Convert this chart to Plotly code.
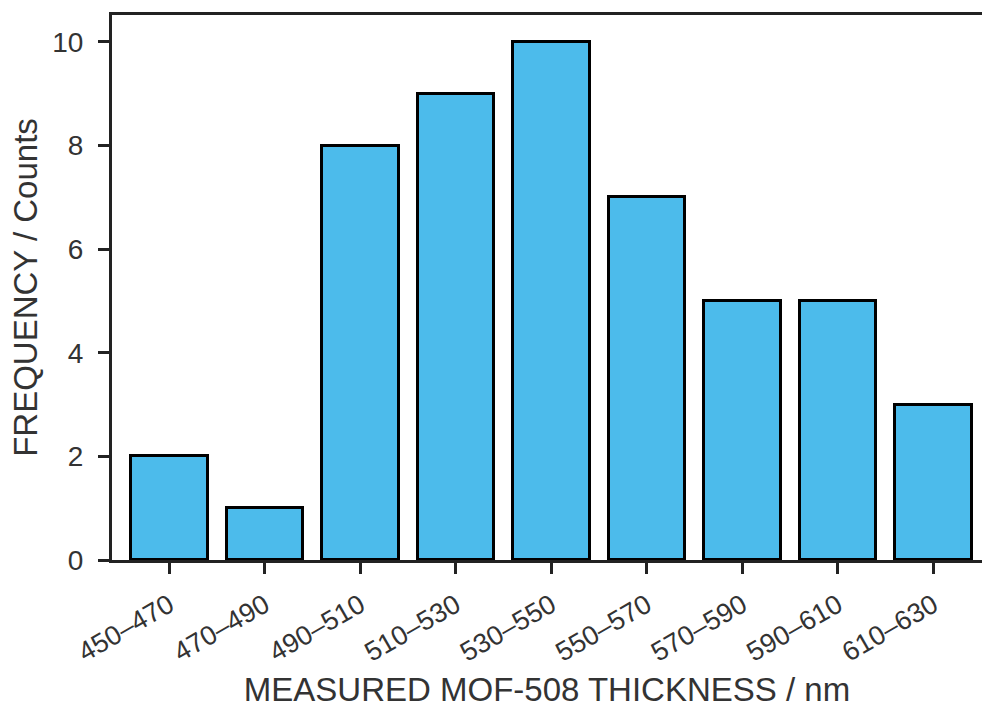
import plotly.graph_objects as go

# Thickness bins (nm) and number of films measured in each
bins = ["450–470", "470–490", "490–510", "510–530", "530–550",
        "550–570", "570–590", "590–610", "610–630"]
counts = [2, 1, 8, 9, 10, 7, 5, 5, 3]
y_ticks = [0, 2, 4, 6, 8, 10]

axis_color = "#222222"
text_color = "#333333"
font_family = "Liberation Sans, Arial, sans-serif"

fig = go.Figure(
    go.Bar(
        x=list(range(len(bins))),
        y=counts,
        width=0.8,
        marker=dict(color="#4CBBEB", line=dict(color="#000000", width=3)),
    )
)

fig.update_layout(
    width=982,
    height=711,
    margin=dict(l=112, r=0, t=15, b=151),
    paper_bgcolor="white",
    plot_bgcolor="white",
    font=dict(family=font_family, size=28, color=text_color),
    showlegend=False,
    bargap=0,
)

fig.update_xaxes(
    range=[-0.6, 8.51],
    tickmode="array",
    tickvals=list(range(len(bins))),
    ticktext=bins,
    tickangle=-30,
    ticks="outside",
    ticklen=11,
    tickwidth=3,
    tickcolor=axis_color,
    showline=True,
    linewidth=3,
    linecolor=axis_color,
    mirror=True,
    showgrid=False,
    zeroline=False,
    ticklabelstandoff=5,
    tickfont=dict(size=27, color=text_color),
    title=dict(text="MEASURED MOF-508 THICKNESS / nm",
               font=dict(size=33, color=text_color), standoff=12),
)

fig.update_yaxes(
    range=[0, 10.52],
    tickmode="array",
    tickvals=y_ticks,
    ticks="outside",
    ticklen=11,
    tickwidth=3,
    tickcolor=axis_color,
    showline=True,
    linewidth=3,
    linecolor=axis_color,
    showgrid=False,
    zeroline=False,
    ticklabelstandoff=9,
    tickfont=dict(size=28, color=text_color),
    title=dict(text="FREQUENCY / Counts",
               font=dict(size=33, color=text_color), standoff=5),
)

fig.write_html("out.html")
